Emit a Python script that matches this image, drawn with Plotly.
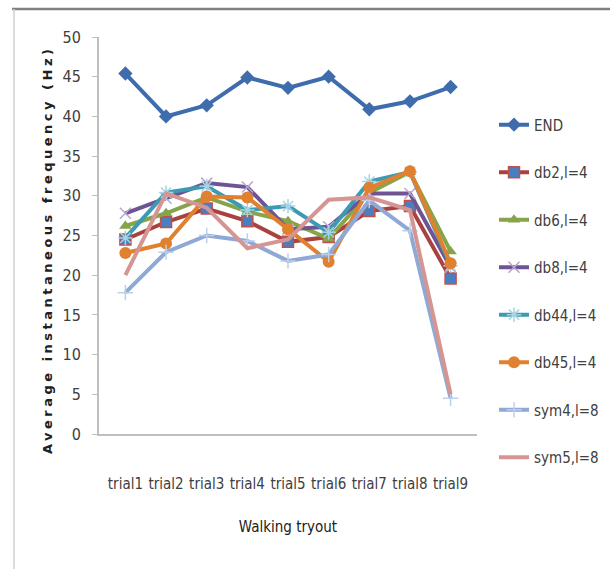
import plotly.graph_objects as go

# Walking trials on the category axis
trials = ["trial1", "trial2", "trial3", "trial4", "trial5",
          "trial6", "trial7", "trial8", "trial9"]

# Average instantaneous frequency (Hz) per method
end_vals   = [45.4, 40.0, 41.4, 44.9, 43.6, 45.0, 40.9, 41.9, 43.7]
db2_vals   = [24.5, 26.7, 28.4, 26.8, 24.2, 24.8, 28.1, 28.7, 19.6]
db6_vals   = [26.2, 27.8, 29.8, 28.0, 26.8, 24.6, 30.4, 33.0, 23.0]
db8_vals   = [27.8, 29.7, 31.6, 31.1, 25.8, 26.1, 30.3, 30.3, 21.0]
db44_vals  = [24.7, 30.4, 31.2, 28.2, 28.7, 25.4, 31.8, 33.0, 21.2]
db45_vals  = [22.8, 24.0, 29.9, 29.8, 25.8, 21.7, 31.0, 33.1, 21.5]
sym4_vals  = [17.8, 22.9, 25.0, 24.3, 21.8, 22.6, 29.4, 25.6, 4.5]
sym5_vals  = [20.0, 30.3, 28.5, 23.4, 24.5, 29.5, 29.8, 28.2, 5.0]

series = [
    ("END",      end_vals,  "#3F6CAD", dict(symbol="diamond", size=11, color="#3F6CAD")),
    ("db2,l=4",  db2_vals,  "#A9423F", dict(symbol="square", size=11, color="#4A7EBF",
                                              line=dict(color="#C0504D", width=1.5))),
    ("db6,l=4",  db6_vals,  "#86A44A", dict(symbol="triangle-up", size=11, color="#86A44A")),
    ("db8,l=4",  db8_vals,  "#6E5494", dict(symbol="x-thin", size=11,
                                              line=dict(color="#B7A7CE", width=1.5))),
    ("db44,l=4", db44_vals, "#3D9AB3", dict(symbol="asterisk", size=12,
                                              line=dict(color="#A5D5E4", width=1.5))),
    ("db45,l=4", db45_vals, "#E0812F", dict(symbol="circle", size=12, color="#E0812F")),
    ("sym4,l=8", sym4_vals, "#8EA9D6", dict(symbol="cross-thin", size=11,
                                              line=dict(color="#BDD0EA", width=1.5))),
    ("sym5,l=8", sym5_vals, "#D69593", None),
]

narrow = "DejaVu Sans Condensed, Liberation Sans Narrow, Arial Narrow, sans-serif"

fig = go.Figure()
for i, (name, vals, col, mk) in enumerate(series):
    if mk is None:
        fig.add_trace(go.Scatter(x=trials, y=vals, name=name, mode="lines",
                                 line=dict(color=col, width=4),
                                 legendgroup=f"g{i}"))
    else:
        fig.add_trace(go.Scatter(x=trials, y=vals, name=name, mode="lines+markers",
                                 line=dict(color=col, width=4), marker=mk,
                                 legendgroup=f"g{i}"))

fig.update_layout(
    width=610, height=569,
    margin=dict(l=99, r=133, t=37, b=135, autoexpand=False),
    paper_bgcolor="white", plot_bgcolor="white",
    font=dict(family=narrow, size=15, color="#404040"),
    showlegend=True,
    legend=dict(x=1.045, xanchor="left", y=0.82, yanchor="top",
                traceorder="grouped", tracegroupgap=25,
                font=dict(family=narrow, size=15, color="#404040"),
                itemwidth=30, bgcolor="rgba(0,0,0,0)"),
    xaxis=dict(
        showline=True, linecolor="#BFBFBF", linewidth=2,
        showgrid=False, ticks="", ticklabelstandoff=35, tickangle=0,
        tickfont=dict(family=narrow, size=15, color="#404040"),
        title=dict(text="Walking tryout",
                   font=dict(family=narrow, size=15, color="#202020"),
                   standoff=29),
    ),
    yaxis=dict(
        range=[0, 50], dtick=5, showgrid=False, zeroline=False,
        showline=True, linecolor="#BFBFBF", linewidth=2,
        ticks="outside", ticklen=5, tickcolor="#BFBFBF",
        ticklabelstandoff=8,
        tickfont=dict(family=narrow, size=16, color="#404040"),
    ),
)

# Rotated, letter-spaced y-axis title
fig.add_annotation(
    xref="paper", yref="paper", x=-0.163, y=0.463,
    text='<span style="letter-spacing:3.5px"><b>Average instantaneous frequency (Hz)</b></span>',
    textangle=-90, showarrow=False,
    font=dict(family="DejaVu Sans, sans-serif", size=13, color="#202020"),
)

# Chart frame: top and left edges
fig.add_shape(type="line", xref="paper", yref="paper",
              x0=-0.23, x1=1.4, y0=1.0705, y1=1.0705,
              line=dict(color="#808080", width=2.5))
fig.add_shape(type="line", xref="paper", yref="paper",
              x0=-0.2249, x1=-0.2249, y0=1.0705, y1=-0.34,
              line=dict(color="#D0D0D0", width=1.5))

fig.write_html("out.html")
